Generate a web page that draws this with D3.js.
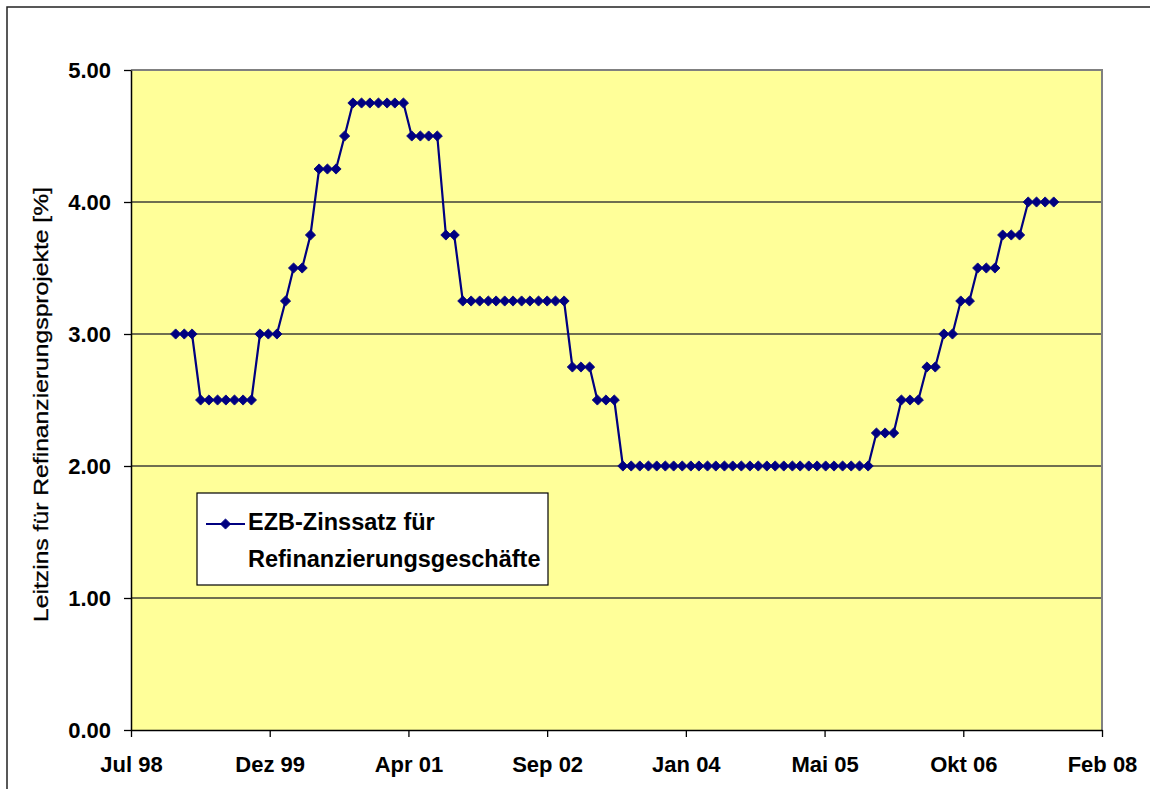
<!DOCTYPE html>
<html>
<head>
<meta charset="utf-8">
<script src="https://cdn.jsdelivr.net/npm/d3@7"></script>
<style>
  html, body { margin: 0; padding: 0; background: #ffffff; }
  svg { display: block; }
</style>
</head>
<body>
<svg id="chart" width="1150" height="789"></svg>
<script>
// ---------------- data ----------------
const months = [
  "1999-01","1999-02","1999-03","1999-04","1999-05","1999-06","1999-07","1999-08","1999-09","1999-10","1999-11","1999-12",
  "2000-01","2000-02","2000-03","2000-04","2000-05","2000-06","2000-07","2000-08","2000-09","2000-10","2000-11","2000-12",
  "2001-01","2001-02","2001-03","2001-04","2001-05","2001-06","2001-07","2001-08","2001-09","2001-10","2001-11","2001-12",
  "2002-01","2002-02","2002-03","2002-04","2002-05","2002-06","2002-07","2002-08","2002-09","2002-10","2002-11","2002-12",
  "2003-01","2003-02","2003-03","2003-04","2003-05","2003-06","2003-07","2003-08","2003-09","2003-10","2003-11","2003-12",
  "2004-01","2004-02","2004-03","2004-04","2004-05","2004-06","2004-07","2004-08","2004-09","2004-10","2004-11","2004-12",
  "2005-01","2005-02","2005-03","2005-04","2005-05","2005-06","2005-07","2005-08","2005-09","2005-10","2005-11","2005-12",
  "2006-01","2006-02","2006-03","2006-04","2006-05","2006-06","2006-07","2006-08","2006-09","2006-10","2006-11","2006-12",
  "2007-01","2007-02","2007-03","2007-04","2007-05","2007-06","2007-07","2007-08","2007-09"
];
const rates = [
  3.00,3.00,3.00,2.50,2.50,2.50,2.50,2.50,2.50,2.50,3.00,3.00,
  3.00,3.25,3.50,3.50,3.75,4.25,4.25,4.25,4.50,4.75,4.75,4.75,
  4.75,4.75,4.75,4.75,4.50,4.50,4.50,4.50,3.75,3.75,3.25,3.25,
  3.25,3.25,3.25,3.25,3.25,3.25,3.25,3.25,3.25,3.25,3.25,2.75,
  2.75,2.75,2.50,2.50,2.50,2.00,2.00,2.00,2.00,2.00,2.00,2.00,
  2.00,2.00,2.00,2.00,2.00,2.00,2.00,2.00,2.00,2.00,2.00,2.00,
  2.00,2.00,2.00,2.00,2.00,2.00,2.00,2.00,2.00,2.00,2.00,2.25,
  2.25,2.25,2.50,2.50,2.50,2.75,2.75,3.00,3.00,3.25,3.25,3.50,
  3.50,3.50,3.75,3.75,3.75,4.00,4.00,4.00,4.00
];
const xDomain = ["1998-07-24", "2008-02-22"];
const xTickDates = ["1998-07-24","1999-12-06","2001-04-19","2002-09-01","2004-01-14","2005-05-28","2006-10-10","2008-02-22"];
const xTickLabels = ["Jul 98","Dez 99","Apr 01","Sep 02","Jan 04","Mai 05","Okt 06","Feb 08"];
const yTicks = [0, 1, 2, 3, 4, 5];
const yTitle = "Leitzins für Refinanzierungsprojekte [%]";
const legendLines = ["EZB-Zinssatz für", "Refinanzierungsgeschäfte"];

// ---------------- layout ----------------
const plot = { left: 131, right: 1102, top: 70, bottom: 730 };
const navy = "#000080";
const font = "'Liberation Sans', Arial, sans-serif";

const parseMonth = d3.timeParse("%Y-%m");
const parseDay = d3.timeParse("%Y-%m-%d");
const data = months.map((m, i) => ({ date: parseMonth(m), value: rates[i] }));

const svg = d3.select("#chart");

// outer chart border
svg.append("rect")
  .attr("x", 7).attr("y", 7)
  .attr("width", 1160).attr("height", 800)
  .attr("fill", "#ffffff")
  .attr("stroke", "#222").attr("stroke-width", 1.5);

const x = d3.scaleTime()
  .domain(xDomain.map(parseDay))
  .range([plot.left, plot.right]);
const y = d3.scaleLinear()
  .domain([0, 5])
  .range([plot.bottom, plot.top]);

// plot background
svg.append("rect")
  .attr("x", plot.left).attr("y", plot.top)
  .attr("width", plot.right - plot.left).attr("height", plot.bottom - plot.top)
  .attr("fill", "#FFFF99");

// gridlines
svg.append("g").selectAll("line")
  .data(yTicks.filter(t => t > 0 && t < 5))
  .join("line")
  .attr("x1", plot.left).attr("x2", plot.right)
  .attr("y1", d => y(d)).attr("y2", d => y(d))
  .attr("stroke", "#6f6f50").attr("stroke-width", 2);

// top and right plot borders (gray)
svg.append("path")
  .attr("d", `M${plot.left},${plot.top}H${plot.right}V${plot.bottom}`)
  .attr("fill", "none")
  .attr("stroke", "#808080").attr("stroke-width", 2);

// axes
const xAxis = d3.axisBottom(x)
  .tickValues(xTickDates.map(parseDay))
  .tickFormat((d, i) => xTickLabels[i])
  .tickSizeInner(7).tickSizeOuter(0);
const gx = svg.append("g")
  .attr("transform", `translate(0,${plot.bottom})`)
  .call(xAxis);
gx.select(".domain").attr("stroke", "#000").attr("stroke-width", 1.5);
gx.selectAll(".tick line").attr("stroke", "#000").attr("stroke-width", 1.3);
gx.selectAll(".tick text")
  .attr("y", 42).attr("dy", 0)
  .attr("fill", "#000")
  .style("font-family", font).style("font-size", "22px").style("font-weight", "bold");

const yAxis = d3.axisLeft(y)
  .tickValues(yTicks)
  .tickFormat(d3.format(".2f"))
  .tickSizeInner(7).tickSizeOuter(0).tickPadding(13);
const gy = svg.append("g")
  .attr("transform", `translate(${plot.left},0)`)
  .call(yAxis);
gy.select(".domain").attr("stroke", "#000").attr("stroke-width", 1.5);
gy.selectAll(".tick line").attr("stroke", "#000").attr("stroke-width", 1.3);
gy.selectAll(".tick text")
  .attr("fill", "#000")
  .style("font-family", font).style("font-size", "22px").style("font-weight", "bold");

// y axis title
svg.append("text")
  .attr("transform", `translate(48,${(187 + 622) / 2}) rotate(-90)`)
  .attr("text-anchor", "middle")
  .attr("textLength", 435)
  .attr("lengthAdjust", "spacingAndGlyphs")
  .style("font-family", font).style("font-size", "20px")
  .attr("fill", "#000")
  .attr("stroke", "#000").attr("stroke-width", 0.3)
  .text(yTitle);

// series line
const line = d3.line().x(d => x(d.date)).y(d => y(d.value));
svg.append("path")
  .datum(data)
  .attr("d", line)
  .attr("fill", "none")
  .attr("stroke", navy).attr("stroke-width", 2.2)
  .attr("stroke-linejoin", "round");

// markers (diamonds)
const diamond = d3.symbol().type(d3.symbolSquare).size(52);
svg.append("g").selectAll("path")
  .data(data)
  .join("path")
  .attr("d", diamond)
  .attr("transform", d => `translate(${x(d.date)},${y(d.value)}) rotate(45)`)
  .attr("fill", navy)
  .attr("stroke", navy).attr("stroke-width", 0.8);

// legend
const lg = svg.append("g");
lg.append("rect")
  .attr("x", 197).attr("y", 493)
  .attr("width", 351).attr("height", 92)
  .attr("fill", "#ffffff")
  .attr("stroke", "#000").attr("stroke-width", 1.2);
lg.append("line")
  .attr("x1", 206).attr("x2", 245)
  .attr("y1", 524).attr("y2", 524)
  .attr("stroke", navy).attr("stroke-width", 2);
lg.append("path")
  .attr("d", diamond)
  .attr("transform", "translate(225.5,524) rotate(45)")
  .attr("fill", navy)
  .attr("stroke", navy).attr("stroke-width", 0.8);
lg.selectAll("text.leg")
  .data(legendLines)
  .join("text")
  .attr("class", "leg")
  .attr("x", 248)
  .attr("y", (d, i) => 530 + i * 37)
  .style("font-family", font).style("font-size", "23.5px").style("font-weight", "bold")
  .attr("fill", "#000")
  .text(d => d);
</script>
</body>
</html>
